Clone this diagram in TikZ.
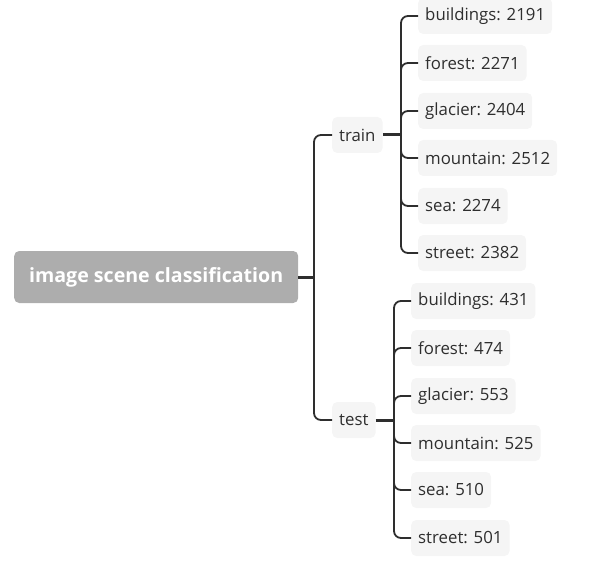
\documentclass[tikz,border=0pt]{standalone}
\usepackage{fontspec}
\setmainfont{Open Sans}
\usepackage{tikz}
\usetikzlibrary{calc}
\definecolor{ink}{HTML}{2E2E2E}
\definecolor{rootgray}{HTML}{ADADAD}
\definecolor{leafbg}{HTML}{F5F5F5}
\tikzset{
  rootbox/.style={fill=rootgray, rounded corners=5pt, text=white, font=\fontsize{19.6}{23}\selectfont\bfseries,
    minimum height=52pt, minimum width=284pt, anchor=west},
  leaf/.style={fill=leafbg, rounded corners=5pt, text=ink, font=\fontsize{16.8}{20}\selectfont,
    minimum height=36pt, inner xsep=7pt, anchor=west},
  link/.style={draw=ink, line width=1.8pt, rounded corners=7pt},
  stem/.style={draw=ink, line width=3pt}
}

\begin{document}
\begin{tikzpicture}[x=1pt,y=-1pt]
\useasboundingbox (0,0) rectangle (612,561);

\node[rootbox] (root) at (14,277) {image scene classification};
\coordinate (rootJ) at (314,277);

\node[leaf] (train) at (332,135) {train};
\node[leaf] (test) at (332,420) {test};
\coordinate (trainJ) at (401,135);
\coordinate (testJ) at (394,420);

% train split
\node[leaf] (tr1) at (418,16) {buildings: 2191};
\node[leaf] (tr2) at (418,63) {forest: 2271};
\node[leaf] (tr3) at (418,111) {glacier: 2404};
\node[leaf] (tr4) at (418,158) {mountain: 2512};
\node[leaf] (tr5) at (418,206) {sea: 2274};
\node[leaf] (tr6) at (418,253) {street: 2382};

% test split
\node[leaf] (te1) at (411,301) {buildings: 431};
\node[leaf] (te2) at (411,348) {forest: 474};
\node[leaf] (te3) at (411,396) {glacier: 553};
\node[leaf] (te4) at (411,443) {mountain: 525};
\node[leaf] (te5) at (411,490) {sea: 510};
\node[leaf] (te6) at (411,538) {street: 501};

\draw[stem] (root.east) -- (rootJ);
\draw[link] (rootJ) |- (train.west);
\draw[link] (rootJ) |- (test.west);

\draw[stem] (train.east) -- (trainJ);
\foreach \i in {1,...,6}
  \draw[link] (trainJ) |- (tr\i.west);

\draw[stem] (test.east) -- (testJ);
\foreach \i in {1,...,6}
  \draw[link] (testJ) |- (te\i.west);
\end{tikzpicture}
\end{document}
